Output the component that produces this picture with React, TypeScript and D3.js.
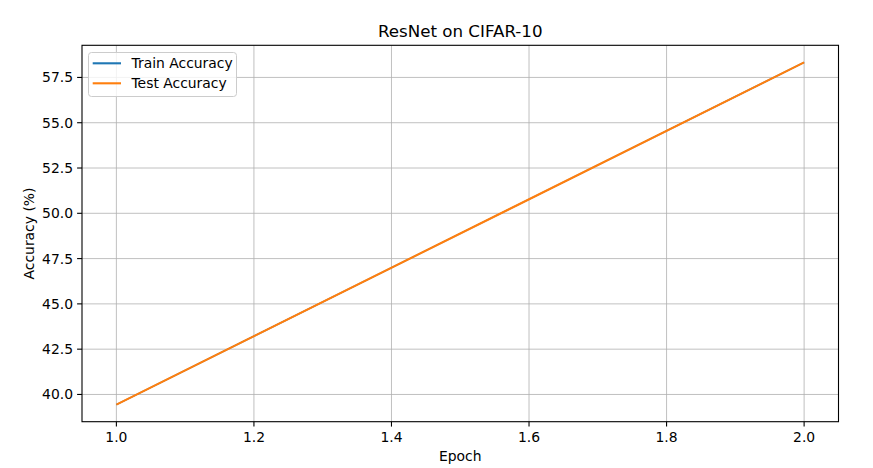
import React from "react";
import * as d3 from "d3";

const epochs = [1, 2];
const trainAccuracy = [39.44, 58.33];
const testAccuracy = [39.44, 58.33];
const xTicks = [1.0, 1.2, 1.4, 1.6, 1.8, 2.0];
const yTicks = [40.0, 42.5, 45.0, 47.5, 50.0, 52.5, 55.0, 57.5];

const W = 873;
const H = 468;
const L = 82, R = 838.5, T = 45.3, B = 421.7;

export default function App() {
  const x = d3.scaleLinear().domain([0.95, 2.05]).range([L, R]);
  const y = d3.scaleLinear().domain([38.496, 59.274]).range([B, T]);
  const line = d3
    .line<number>()
    .x((_, i) => x(epochs[i]))
    .y((d) => y(d));
  const font = "'DejaVu Sans', sans-serif";
  return (
    <svg
      width={W}
      height={H}
      style={{ position: "absolute", left: 0, top: 0, background: "#fff" }}
      fontFamily={font}
    >
      <rect x={0} y={0} width={W} height={H} fill="#fff" />
      {/* grid */}
      {xTicks.map((t) => (
        <line key={"gx" + t} x1={x(t)} x2={x(t)} y1={T} y2={B} stroke="#b0b0b0" strokeWidth={0.8} />
      ))}
      {yTicks.map((t) => (
        <line key={"gy" + t} x1={L} x2={R} y1={y(t)} y2={y(t)} stroke="#b0b0b0" strokeWidth={0.8} />
      ))}
      {/* lines */}
      <path d={line(trainAccuracy) || ""} fill="none" stroke="#1f77b4" strokeWidth={1.4} />
      <path d={line(testAccuracy) || ""} fill="none" stroke="#ff7f0e" strokeWidth={2.1} />
      {/* spines */}
      <rect x={L} y={T} width={R - L} height={B - T} fill="none" stroke="#000" strokeWidth={1.1} />
      {/* x ticks */}
      {xTicks.map((t) => (
        <g key={"xt" + t}>
          <line x1={x(t)} x2={x(t)} y1={B} y2={B + 4.9} stroke="#000" strokeWidth={1.1} />
          <text x={x(t)} y={B + 20} textAnchor="middle" fontSize={13.9} fill="#000">
            {t.toFixed(1)}
          </text>
        </g>
      ))}
      {yTicks.map((t) => (
        <g key={"yt" + t}>
          <line x1={L - 4.9} x2={L} y1={y(t)} y2={y(t)} stroke="#000" strokeWidth={1.1} />
          <text x={L - 9} y={y(t)} dy="0.36em" textAnchor="end" fontSize={13.9} fill="#000">
            {t.toFixed(1)}
          </text>
        </g>
      ))}
      {/* labels */}
      <text x={(L + R) / 2} y={461} textAnchor="middle" fontSize={13.9} fill="#000">
        Epoch
      </text>
      <text
        transform={`translate(34, ${(T + B) / 2}) rotate(-90)`}
        textAnchor="middle"
        fontSize={13.9}
        fill="#000"
      >
        Accuracy (%)
      </text>
      <text x={(L + R) / 2} y={37} textAnchor="middle" fontSize={16.7} fill="#000">
        ResNet on CIFAR-10
      </text>
      {/* legend */}
      <rect x={88.5} y={52.5} width={148} height={44} rx={3} fill="#fff" fillOpacity={0.8} stroke="#cccccc" strokeWidth={1} />
      <line x1={92.7} x2={121} y1={63.3} y2={63.3} stroke="#1f77b4" strokeWidth={2.1} />
      <text x={131.5} y={63.3} dy="0.36em" fontSize={13.9} fill="#000">Train Accuracy</text>
      <line x1={92.7} x2={121} y1={83.3} y2={83.3} stroke="#ff7f0e" strokeWidth={2.1} />
      <text x={131.5} y={83.3} dy="0.36em" fontSize={13.9} fill="#000">Test Accuracy</text>
    </svg>
  );
}
